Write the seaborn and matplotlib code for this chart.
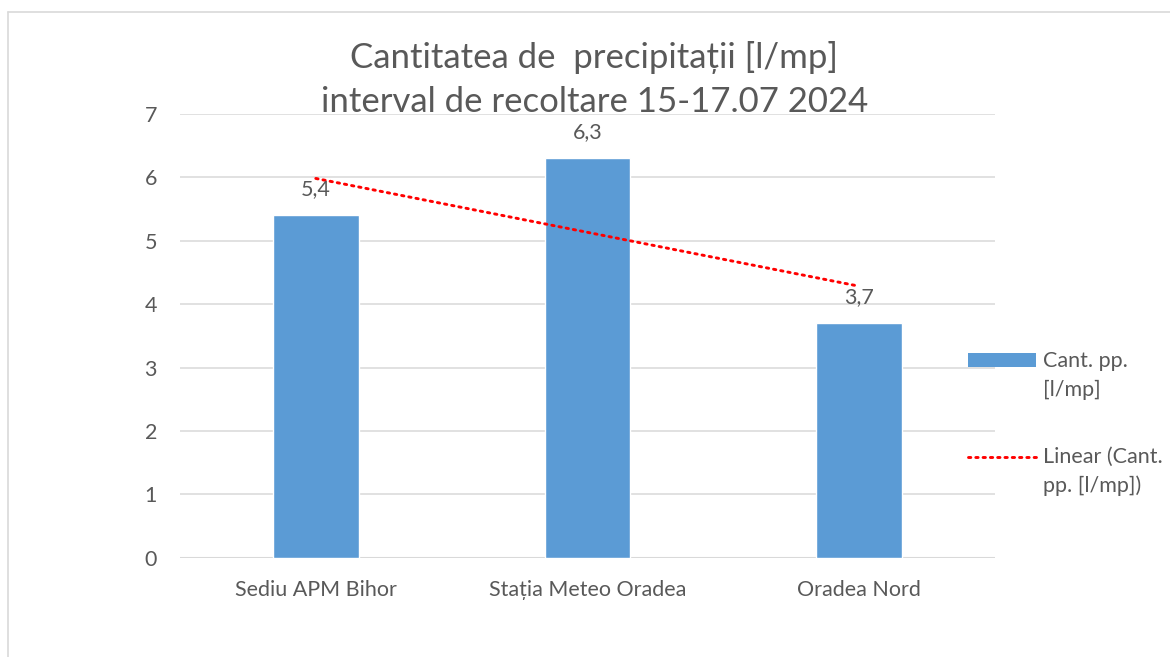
import numpy as np
import pandas as pd
import matplotlib.pyplot as plt
import seaborn as sns
from matplotlib.lines import Line2D
from matplotlib.patches import Rectangle

# Data
stations = ["Sediu APM Bihor", "Stația Meteo Oradea", "Oradea Nord"]
rain = [5.4, 6.3, 3.7]
rain_labels = ["5,4", "6,3", "3,7"]
y_ticks = [0, 1, 2, 3, 4, 5, 6, 7]

df = pd.DataFrame({"station": stations, "rain": rain})

sns.set_theme(style="white")
plt.rcParams["font.family"] = ["Lato", "DejaVu Sans"]

grey = "#595959"
grid_grey = "#D9D9D9"
blue = "#5B9BD5"
red = "#FF0000"
W, H = 1170, 657

fig = plt.figure(figsize=(11.7, 6.57), dpi=100)
ax = fig.add_axes([0.1538, 0.1511, 0.6966, 0.6754])

sns.barplot(data=df, x="station", y="rain", color=blue, width=0.316,
            saturation=1, ax=ax, zorder=3)

# linear trendline, same as Excel's
xs = np.arange(len(rain))
k, b = np.polyfit(xs, rain, 1)
dots = (0, (0.8, 1.7))
ax.plot(xs, k * xs + b, color=red, lw=2.1, linestyle=dots,
        dash_capstyle="round", zorder=4)

for i, (v, lab) in enumerate(zip(rain, rain_labels)):
    ax.annotate(lab, (i, v), xytext=(0, 11.5), textcoords="offset points",
                ha="center", va="bottom", fontsize=15.5, color=grey, zorder=5)

ax.set_ylim(0, 7)
ax.set_xlim(-0.5, 2.5)
ax.set_yticks(y_ticks)
ax.yaxis.grid(True, color=grid_grey, lw=1.1, zorder=0)
ax.set_axisbelow(True)
for s in ax.spines.values():
    s.set_visible(False)
ax.axhline(0, color=grid_grey, lw=1.5, zorder=2)
ax.tick_params(axis="both", length=0, labelsize=15.5, labelcolor=grey)
ax.tick_params(axis="y", pad=16.5)
ax.tick_params(axis="x", pad=16)
ax.set_xlabel("")
ax.set_ylabel("")

fig.text(0.508, 1 - 57 / H, "Cantitatea de  precipitații [l/mp]", ha="center",
         va="center", fontsize=25, color=grey)
fig.text(0.508, 1 - 102 / H, "interval de recoltare 15-17.07 2024", ha="center",
         va="center", fontsize=25, color=grey)

# legend, laid out like Excel's (handle next to the first text line)
fig.add_artist(Rectangle((968 / W, 1 - 367 / H), 68 / W, 14 / H,
                         transform=fig.transFigure, facecolor=blue,
                         edgecolor="none"))
fig.add_artist(Line2D([968 / W, 1036 / W], [1 - 457 / H, 1 - 457 / H],
                      color=red, lw=2.1, linestyle=dots,
                      dash_capstyle="round"))
for line, y in [("Cant. pp.", 367), ("[l/mp]", 396),
                ("Linear (Cant.", 463), ("pp. [l/mp])", 492)]:
    fig.text(1043 / W, 1 - y / H, line, ha="left", va="baseline",
             fontsize=15.5, color=grey)

# outer chart frame
fig.add_artist(Line2D([7.5 / W, 7.5 / W], [0, 1 - 11.5 / H],
                      color=grid_grey, lw=1.2))
fig.add_artist(Line2D([7.5 / W, 1], [1 - 11.5 / H, 1 - 11.5 / H],
                      color=grid_grey, lw=1.2))

fig.savefig("out.png", dpi=100)
